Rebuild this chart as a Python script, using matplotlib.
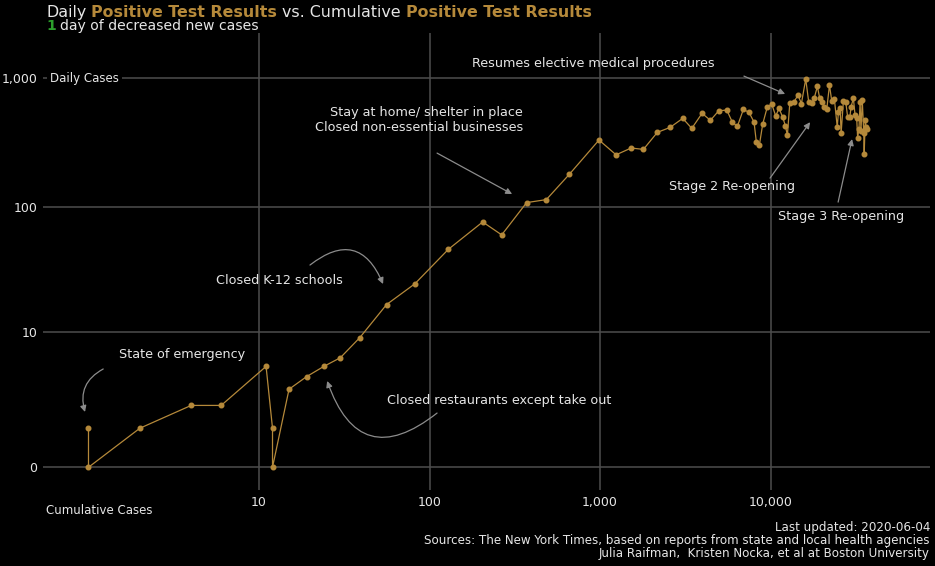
"""Daily vs cumulative positive test results, log-log style chart."""

import matplotlib

matplotlib.use("Agg")
import matplotlib.pyplot as plt
import numpy as np
from matplotlib.ticker import FixedLocator, FuncFormatter, NullLocator

GOLD = "#b5893a"
GREEN = "#2ca02c"
TEXT = "#e6e6e6"
GRID = "#4d4d4d"
ARROW = "#8c8c8c"
W, H = 935, 566

cumulative = [
    1, 1, 2, 4, 6, 11, 12, 12, 15, 19, 24, 30, 39, 56, 82, 129, 205, 265,
    371, 484, 661, 986, 1242, 1521, 1796, 2168, 2574, 3055, 3451, 3966,
    4437, 4969, 5537, 5975, 6388, 6927, 7474, 8000, 8254, 8599, 8995, 9572,
    10160, 10720, 11210, 11790, 12220, 12550, 12960, 13690, 14500, 15160,
    16080, 16730, 17420, 18060, 18810, 19430, 20050, 20700, 21370, 22150,
    22860, 23680, 24600, 25000, 25600, 25920, 26740, 27600, 28300, 29200,
    29650, 30600, 31300, 32000, 32400, 33000, 33500, 33900, 34500, 35200,
    35400, 35900, 36300, 36650,
]
daily = [
    1, 0, 1, 2, 2, 5, 1, 0, 3, 4, 5, 6, 9, 17, 25, 47, 77, 61,
    109, 115, 181, 333, 256, 289, 282, 382, 417, 490, 410, 536,
    473, 561, 568, 456, 425, 575, 545, 459, 321, 305, 443, 602,
    632, 511, 585, 499, 428, 362, 640, 655, 742, 636,
    985, 658, 640, 707, 864, 699, 651, 602, 581, 885,
    666, 690, 420, 545, 585, 375, 665, 658, 504, 504,
    602, 699, 519, 490, 347, 405, 658, 393, 678, 375,
    259, 476, 422, 405,
]

x_ticks = [10, 100, 1000, 10000]
y_ticks = [0, 10, 100, 1000]


def fwd(y):
    return np.log10(np.maximum(np.asarray(y, dtype=float) + 1, 1e-9))


def inv(v):
    return 10 ** np.asarray(v, dtype=float) - 1


def comma(v, _pos=None):
    return f"{v:,.0f}"


fig = plt.figure(figsize=(W / 100, H / 100), dpi=100, facecolor="black")
ax = fig.add_axes([43 / W, 1 - 490 / H, (930 - 43) / W, (490 - 33) / H])
ax.set_facecolor("black")
ax.set_xscale("log")
ax.set_yscale("function", functions=(fwd, inv))
ax.set_xlim(0.541, 86100)
ax.set_ylim(-0.332, 2235)

ax.xaxis.set_major_locator(FixedLocator(x_ticks))
ax.xaxis.set_minor_locator(NullLocator())
ax.yaxis.set_major_locator(FixedLocator(y_ticks))
ax.yaxis.set_minor_locator(NullLocator())
ax.xaxis.set_major_formatter(FuncFormatter(comma))
ax.yaxis.set_major_formatter(FuncFormatter(comma))
ax.tick_params(colors=TEXT, labelsize=9, length=0, pad=4)
ax.grid(True, color=GRID, linewidth=1.1)
ax.set_axisbelow(True)
for s in ax.spines.values():
    s.set_visible(False)

ax.plot(cumulative, daily, color=GOLD, linewidth=0.9, marker="o",
        markersize=3.3, zorder=3)

ax.text(0.595, 1000, "Daily Cases", color=TEXT, fontsize=8.5, va="center",
        ha="left", bbox=dict(facecolor="black", edgecolor="none", pad=2))
fig.text(46 / W, 1 - 510 / H, "Cumulative Cases", color=TEXT, fontsize=8.5,
         va="center", ha="left")

# event annotations
arrow = dict(arrowstyle="-|>", color=ARROW, lw=0.9, mutation_scale=9,
             shrinkA=0, shrinkB=0)
notes = [
    ("Resumes elective medical procedures", (910, 1309), "center",
     (6980, 1039), (12170, 756), 0.0),
    ("Stay at home/ shelter in place\nClosed non-essential businesses",
     (353, 477), "right", (110.7, 264), (305, 127), 0.0),
    ("Stage 2 Re-opening", (5940, 146), "center",
     (9930, 169), (17060, 458), 0.0),
    ("Stage 3 Re-opening", (25940, 85.5), "center",
     (24900, 110), (30050, 339), 0.0),
    ("Closed K-12 schools", (13.1, 26.8), "center",
     (19.9, 35.3), (53.4, 24.9), -0.65),
    ("State of emergency", (3.54, 6.36), "center",
     (1.22, 4.73), (0.954, 1.67), 0.4),
    ("Closed restaurants except take out", (256, 2.30), "center",
     (110.7, 1.62), (25.1, 3.63), -0.7),
]
for label, pos, ha, start, end, rad in notes:
    ax.text(pos[0], pos[1], label, color=TEXT, fontsize=9.2, ha=ha,
            va="center", multialignment="right" if ha == "right" else "center",
            linespacing=1.15)
    style = dict(arrow, connectionstyle=f"arc3,rad={rad}")
    ax.annotate("", xy=end, xytext=start, arrowprops=style)

# multi-colour title
fig.canvas.draw()
renderer = fig.canvas.get_renderer()


def colored_line(x_px, y_px, pieces, size):
    x = x_px
    for txt, color, weight in pieces:
        t = fig.text(x / W, 1 - y_px / H, txt, color=color, fontsize=size,
                     fontweight=weight, va="baseline", ha="left")
        bb = t.get_window_extent(renderer)
        x += bb.width + size * 100 / 72 * 0.318


colored_line(46, 17, [
    ("Daily", TEXT, "normal"),
    ("Positive Test Results", GOLD, "bold"),
    ("vs. Cumulative", TEXT, "normal"),
    ("Positive Test Results", GOLD, "bold"),
], 11.4)
colored_line(46, 30, [
    ("1", GREEN, "bold"),
    ("day of decreased new cases", TEXT, "normal"),
], 10.1)

caption = [
    "Last updated: 2020-06-04",
    "Sources: The New York Times, based on reports from state and local health agencies",
    "Julia Raifman,  Kristen Nocka, et al at Boston University",
]
for i, line in enumerate(caption):
    fig.text(930 / W, 1 - (527 + 13.5 * i) / H, line, color=TEXT,
             fontsize=8.6, ha="right", va="center")

fig.savefig("out.png", dpi=100, facecolor="black")
